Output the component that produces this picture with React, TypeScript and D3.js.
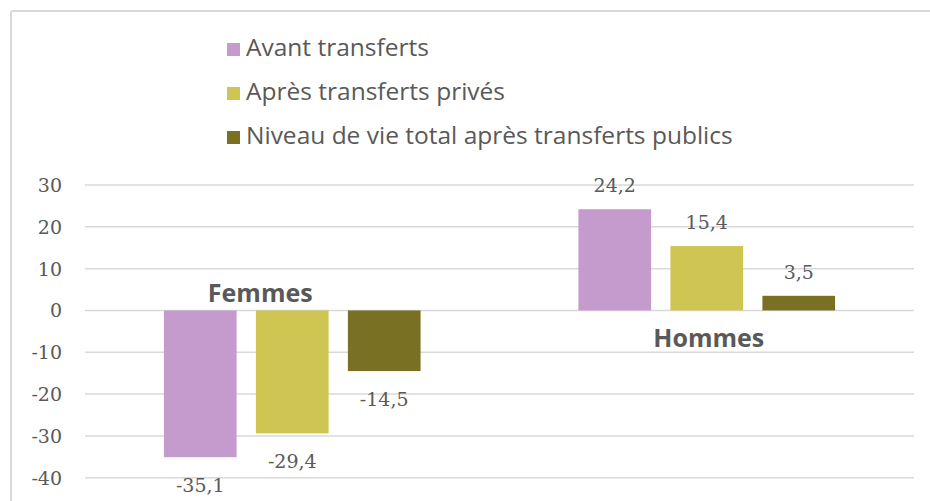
import React from "react";
import * as d3 from "d3";

const categories = ["Femmes", "Hommes"];
const seriesNames = [
  "Avant transferts",
  "Après transferts privés",
  "Niveau de vie total après transferts publics",
];
const femmesValues = [-35.1, -29.4, -14.5];
const hommesValues = [24.2, 15.4, 3.5];
const yTicks = [30, 20, 10, 0, -10, -20, -30, -40];
const colors = ["#C59ACC", "#CFC552", "#7A7023"];

const W = 930;
const H = 501;
const plotLeft = 85;
const plotRight = 914;
const GRAY = "#595959";

export default function App() {
  const values = [femmesValues, hommesValues];
  const y = d3.scaleLinear().domain([-40, 30]).range([477.7, 185]);
  const x0 = d3.scaleBand<string>().domain(categories).range([plotLeft, plotRight]).paddingInner(0).paddingOuter(0);
  const x1 = d3
    .scaleBand<string>()
    .domain(seriesNames)
    .range([0, x0.bandwidth()])
    .paddingInner(0.21)
    .paddingOuter(0.858);
  const fmt = (v: number) => String(v).replace(".", ",");
  const catLabelDx = [-32, 2];

  return (
    <svg
      width={W}
      height={H}
      style={{ position: "absolute", left: 0, top: 0, background: "#fff" }}
    >
      <rect x={0} y={0} width={W} height={H} fill="#fff" />
      {/* border */}
      <line x1={11} y1={11} x2={W} y2={11} stroke="#d9d9d9" strokeWidth={2} />
      <line x1={11} y1={11} x2={11} y2={H} stroke="#d9d9d9" strokeWidth={2} />

      {/* legend */}
      {seriesNames.map((s, i) => (
        <g key={s} transform={`translate(227, ${43 + i * 44})`}>
          <rect x={0} y={0} width={13} height={13} fill={colors[i]} />
          <text
            x={19}
            y={13}
            fontFamily="'Open Sans', sans-serif"
            fontSize={24.5}
            fill={GRAY}
          >
            {s}
          </text>
        </g>
      ))}

      {/* gridlines */}
      {yTicks.map((t) => (
        <g key={t}>
          <line x1={plotLeft} x2={plotRight} y1={y(t)} y2={y(t)} stroke="#d9d9d9" strokeWidth={1.5} />
          <text
            x={62}
            y={y(t) + 7}
            textAnchor="end"
            fontFamily="'DejaVu Serif', serif"
            fontSize={19}
            fill={GRAY}
          >
            {t}
          </text>
        </g>
      ))}

      {/* bars */}
      {categories.map((c, ci) => (
        <g key={c} transform={`translate(${x0(c)}, 0)`}>
          {values[ci].map((v, si) => {
            const bx = x1(seriesNames[si])!;
            const top = y(Math.max(0, v));
            const bot = y(Math.min(0, v));
            return (
              <g key={si}>
                <rect x={bx} y={top} width={x1.bandwidth()} height={bot - top} fill={colors[si]} />
                <text
                  x={bx + x1.bandwidth() / 2}
                  y={v >= 0 ? top - 17 : bot + 35}
                  textAnchor="middle"
                  fontFamily="'DejaVu Serif', serif"
                  fontSize={19}
                  fill={GRAY}
                >
                  {fmt(v)}
                </text>
              </g>
            );
          })}
        </g>
      ))}

      {/* category labels */}
      {categories.map((c, ci) => {
        const neg = d3.sum(values[ci]) < 0;
        return (
          <text
            key={c}
            x={x0(c)! + x0.bandwidth() / 2 + catLabelDx[ci]}
            y={neg ? y(0) - 8 : y(0) + 37}
            textAnchor="middle"
            fontFamily="'Open Sans', sans-serif"
            fontWeight={700}
            fontSize={25}
            fill={GRAY}
          >
            {c}
          </text>
        );
      })}
    </svg>
  );
}
